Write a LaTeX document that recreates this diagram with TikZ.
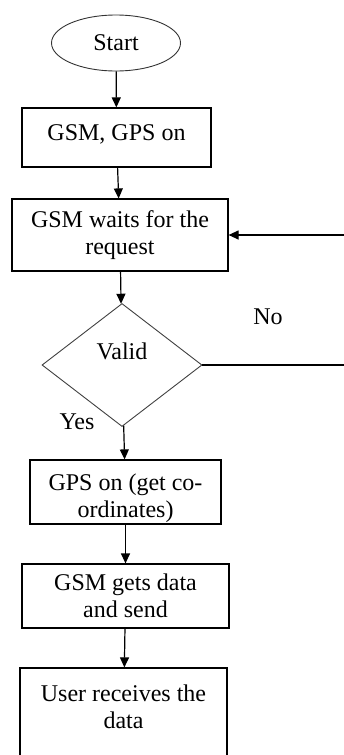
\documentclass[tikz,border=0pt]{standalone}
\usepackage{fontspec}
\setmainfont{Liberation Serif}
\usetikzlibrary{shapes.geometric,arrows.meta}
\tikzset{
	box/.style={draw,line width=1.2pt,align=center,inner sep=0pt},
	dec/.style={diamond,draw=black!75,line width=0.9pt,align=center,inner sep=0pt,minimum width=160pt,minimum height=123pt},
	term/.style={ellipse,draw=black!80,line width=0.9pt,inner sep=0pt,minimum width=129pt,minimum height=56pt},
	flow/.style={line width=1.2pt}
}
\begin{document}
\begin{tikzpicture}[x=1pt,y=-1pt,>={Triangle[width=9pt,length=10pt]},every edge/.style={draw,flow},font=\fontsize{24}{27}\selectfont]
	\useasboundingbox (0,0) rectangle (343,755);
	\node (St) at (116,43) [term] {Start};
	\node (On) at (116.5,137.5) [box,minimum width=189pt,minimum height=59pt,text depth=10pt] {GSM, GPS on} edge [<-] (St);
	\node (Wt) at (120,235) [box,minimum width=216pt,minimum height=72pt] {GSM waits for the\\request} edge [<-] (On);
	\node (Vd) at (122,365) [dec] {Valid\\\mbox{}} edge [<-] (Wt);
	\node (Co) at (125.5,492) [box,minimum width=191pt,minimum height=64pt,text height=56pt] {GPS on (get co-\\ordinates)} edge [<-] (Vd);
	\node (Sd) at (125.5,596) [box,minimum width=207pt,minimum height=64pt] {GSM gets data\\and send} edge [<-] (Co);
	\node (Us) at (123.5,720) [box,minimum width=207pt,minimum height=104pt] {User receives the\\data\\\mbox{}} edge [<-] (Sd);
	\node (No) at (268,317) [] {No};
	\node (Ys) at (77,422) [] {Yes};
	\coordinate (Rt) at (352,300);
	\draw[flow,->] (Vd.east) -- (Rt |- Vd.east) -- (Rt |- Wt.east) -- (Wt.east);
\end{tikzpicture}
\end{document}
